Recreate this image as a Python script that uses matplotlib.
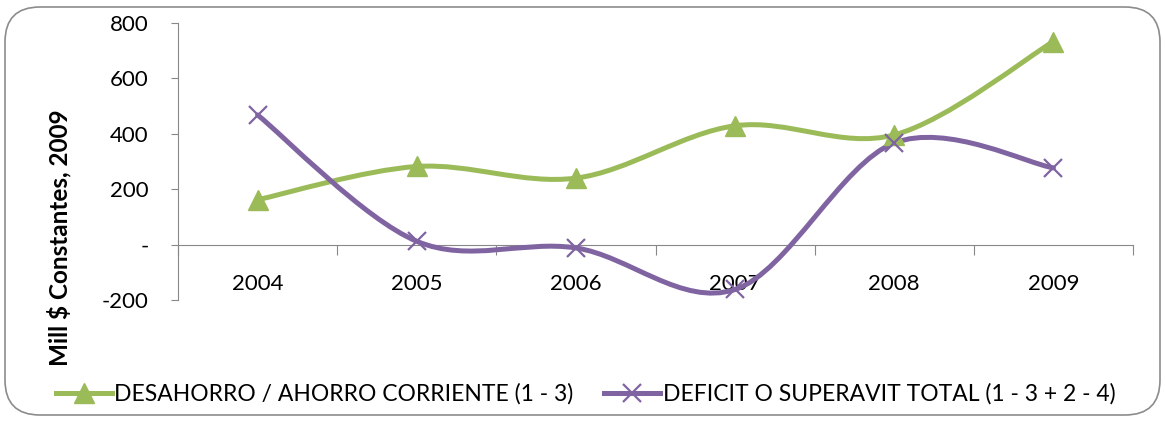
import matplotlib
matplotlib.use("Agg")
import matplotlib.pyplot as plt
from matplotlib.path import Path
from matplotlib.patches import PathPatch, FancyBboxPatch
from matplotlib.lines import Line2D

# data
years = ["2004", "2005", "2006", "2007", "2008", "2009"]
ahorro = [162, 282, 240, 429, 396, 733]
deficit = [468, 12, -12, -162, 367, 277]
series_names = ["DESAHORRO / AHORRO CORRIENTE (1 - 3)",
                "DEFICIT O SUPERAVIT TOTAL (1 - 3 + 2 - 4)"]
y_ticks = [-200, 0, 200, 400, 600, 800]
y_tick_labels = ["-200", "-", "200", "400", "600", "800"]

green = "#9BBB59"
purple = "#8064A2"
plt.rcParams['font.family'] = ['Lato', 'DejaVu Sans']


def smooth_path(xs, ys):
    # excel-like smoothed line: cubic bezier segments through the points
    n = len(xs)
    verts = [(xs[0], ys[0])]
    codes = [Path.MOVETO]
    for i in range(n - 1):
        x0, y0 = (xs[i - 1], ys[i - 1]) if i > 0 else (xs[i], ys[i])
        x1, y1 = xs[i], ys[i]
        x2, y2 = xs[i + 1], ys[i + 1]
        x3, y3 = (xs[i + 2], ys[i + 2]) if i + 2 < n else (x2, y2)
        c1 = (x1 + (x2 - x0) / 6, y1 + (y2 - y0) / 6)
        c2 = (x2 - (x3 - x1) / 6, y2 - (y3 - y1) / 6)
        verts += [c1, c2, (x2, y2)]
        codes += [Path.CURVE4] * 3
    return Path(verts, codes)


fig = plt.figure(figsize=(11.65, 4.22), dpi=100)
ax = fig.add_axes([178 / 1165, 1 - 300 / 422, (1133 - 178) / 1165, (300 - 23) / 422])

xs = list(range(len(years)))
for vals, col, mk in [(ahorro, green, "^"), (deficit, purple, "x")]:
    ax.add_patch(PathPatch(smooth_path(xs, vals), facecolor="none", edgecolor=col,
                           lw=3.6, capstyle="round", zorder=3))
    ax.plot(xs, vals, linestyle="none", marker=mk, markersize=14 if mk == "^" else 13,
            color=col, markeredgewidth=1.6 if mk == "x" else 1, zorder=4)

ax.set_xlim(-0.5, len(years) - 0.5)
ax.set_ylim(-200, 800)
ax.set_yticks(y_ticks)
ax.set_yticklabels(y_tick_labels)

ax.set_xticks([i - 0.5 for i in range(len(years) + 1)])
ax.set_xticklabels([])
ax.set_xticks(xs, minor=True)
ax.set_xticklabels(years, minor=True)
ax.tick_params(axis="x", which="major", length=7, color="#888888", direction="out")
ax.tick_params(axis="x", which="minor", length=0, pad=21, labelsize=16)
ax.tick_params(axis="y", length=5, color="#888888", labelsize=16, pad=16)

for s in ["top", "right"]:
    ax.spines[s].set_visible(False)
ax.spines["bottom"].set_position(("data", 0))
ax.spines["bottom"].set_color("#888888")
ax.spines["left"].set_color("#888888")
ax.spines["left"].set_bounds(-200, 800)

ax.set_ylabel("Mill $ Constantes, 2009", fontsize=17.5, fontweight="bold")
ax.yaxis.set_label_coords(-0.112, 0.225)

handles = [Line2D([], [], color=green, lw=3.6, marker="^", markersize=14),
           Line2D([], [], color=purple, lw=3.6, marker="x", markersize=13, markeredgewidth=1.6)]
fig.legend(handles, series_names, loc="center left", bbox_to_anchor=(35 / 1165, 1 - 394 / 422),
           ncol=2, frameon=False, fontsize=16.5, handlelength=2.45, handletextpad=0.1,
           columnspacing=1.35)

border = FancyBboxPatch((5 / 1165, 7 / 422), 1155 / 1165, 408 / 422,
                        boxstyle="round,pad=0,rounding_size=0.03", transform=fig.transFigure,
                        facecolor="none", edgecolor="#8c8c8c", lw=1.2,
                        mutation_aspect=1165 / 422)
fig.patches.append(border)

fig.savefig("out.png", dpi=100)
